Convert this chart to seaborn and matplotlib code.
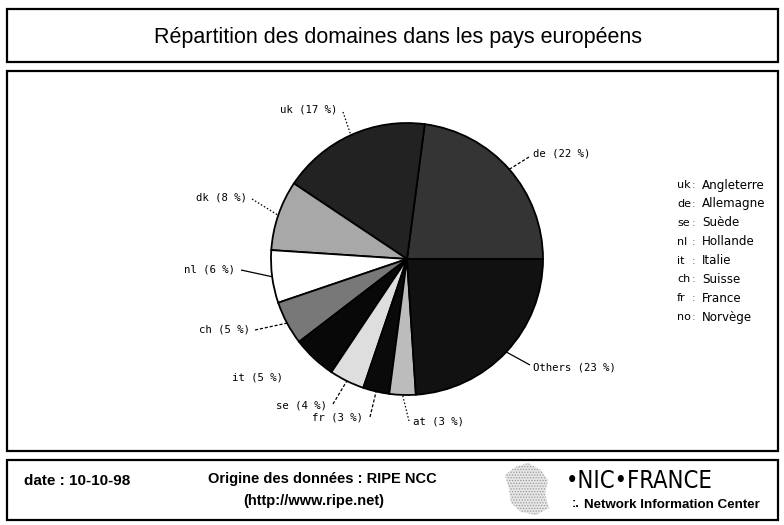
import matplotlib
matplotlib.use("Agg")
import numpy as np
import matplotlib.pyplot as plt
import seaborn as sns
from matplotlib.patches import Rectangle, Polygon

# Share of registered domains per country (percent), counter-clockwise from 3 o'clock
codes = ["de", "uk", "dk", "nl", "ch", "it", "se", "fr", "at", "Others"]
shares = [22, 17, 8, 6, 5, 5, 4, 3, 3, 23]

# Country legend
legend_codes = ["uk", "de", "se", "nl", "it", "ch", "fr", "no"]
legend_names = ["Angleterre", "Allemagne", "Suède", "Hollande", "Italie", "Suisse", "France", "Norvège"]

title = "Répartition des domaines dans les pays européens"
footer_date = "date : 10-10-98"
footer_source = "Origine des données : RIPE NCC"
footer_url = "(http://www.ripe.net)"

sns.set_theme(style="white")
plt.rcParams["font.family"] = ["Liberation Sans", "DejaVu Sans"]
plt.rcParams["hatch.color"] = "#8c8c8c"
plt.rcParams["hatch.linewidth"] = 0.6

W, H = 784, 525
fig = plt.figure(figsize=(W / 100, H / 100), dpi=100)
ax = fig.add_axes([0, 0, 1, 1])


def Y(y):
    """Convert a top-origin pixel row to the axes' y coordinate."""
    return H - y


# Grey levels of the slices
shades = ["#343434", "#222222", "#a8a8a8", "#ffffff", "#787878",
          "#080808", "#dedede", "#0a0a0a", "#bcbcbc", "#111111"]

cx, cy, r = 407, 259, 136
wedges, _ = ax.pie(shares, colors=shades, startangle=0, counterclock=True,
                   center=(cx, Y(cy)), radius=r,
                   wedgeprops=dict(edgecolor="black", linewidth=1.3))
ax.set_xlim(0, W)
ax.set_ylim(0, H)
ax.set_aspect("equal")
ax.axis("off")

# Label placement: (x, y, ha, line start, line style)
dot = (0, (1.2, 1.6))
dash = (0, (2.5, 1.5))
label_layout = {
    "uk": (337, 109, "right", (343, 112), dot),
    "de": (533, 154, "left", (529, 157), dash),
    "dk": (247, 197, "right", (252, 199), dot),
    "nl": (235, 270, "right", (241, 270), "-"),
    "ch": (250, 329, "right", (255, 330), dash),
    "it": (283, 377, "right", None, None),
    "se": (327, 405, "right", (333, 404), dash),
    "fr": (363, 418, "right", (370, 417), dash),
    "at": (413, 422, "left", (409, 421), dot),
    "Others": (533, 367, "left", (530, 365), "-"),
}

mono = dict(family="DejaVu Sans Mono", fontsize=7.7, color="black")
for w, code, pct in zip(wedges, codes, shares):
    x, y, ha, start, ls = label_layout[code]
    ax.text(x, Y(y), f"{code} ({pct} %)", ha=ha, va="center", **mono)
    if start is not None:
        mid = np.deg2rad((w.theta1 + w.theta2) / 2)
        ex = w.center[0] + w.r * np.cos(mid)
        ey = w.center[1] + w.r * np.sin(mid)
        ax.plot([start[0], ex], [Y(start[1]), ey], color="black",
                lw=0.9, ls=ls, solid_capstyle="butt")

# Legend of country codes
for i, (c, n) in enumerate(zip(legend_codes, legend_names)):
    yy = 185 + i * 18.9
    ax.text(677, Y(yy), c, ha="left", va="center", family="DejaVu Sans",
            fontsize=8, color="black")
    ax.text(692, Y(yy), ":", ha="left", va="center", family="DejaVu Sans",
            fontsize=8, color="#666666")
    ax.text(702, Y(yy), n, ha="left", va="center", family="DejaVu Sans",
            fontsize=8.6, color="black")

# Frames
for (x0, y0, x1, y1) in [(7, 9, 778, 62), (7, 71, 778, 451), (7, 460, 778, 520)]:
    ax.add_patch(Rectangle((x0, Y(y1)), x1 - x0, y1 - y0, fill=False,
                           edgecolor="black", linewidth=1.6))

ax.text(398, Y(38), title, ha="center", va="center", fontsize=15.5,
        color="black")

# Footer
ax.text(24, Y(481), footer_date, ha="left", va="center", fontsize=11,
        fontweight="bold", color="black")
ax.text(322, Y(479), footer_source, ha="center", va="center", fontsize=10.5,
        fontweight="bold", color="black")
ax.text(314, Y(501), footer_url, ha="center", va="center", fontsize=10.5,
        fontweight="bold", color="black")

# NIC-France logo: stippled map, name and subtitle
france = [(515, 467), (528, 463), (541, 470), (548, 480), (545, 494),
          (549, 508), (536, 515), (521, 512), (511, 503), (509, 489), (505, 475)]
ax.add_patch(Polygon([(px, Y(py)) for px, py in france], closed=True,
                     facecolor="#e6e6e6", edgecolor="#9a9a9a", hatch="......",
                     linewidth=0))
ax.text(566, Y(481), "•NIC•FRANCE", ha="left", va="center", fontsize=17,
        family="DejaVu Sans", fontstretch="condensed", color="black")
ax.text(572, Y(504), ":.", ha="left", va="center", fontsize=9,
        fontweight="bold", color="black")
ax.text(584, Y(505), "Network Information Center", ha="left", va="center",
        fontsize=9.6, fontweight="bold", color="black")

fig.savefig("out.png", dpi=100, facecolor="white")
